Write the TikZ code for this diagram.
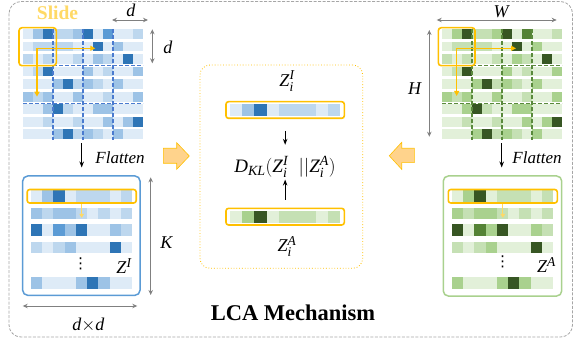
\RequirePackage{fix-cm}
\documentclass[tikz,border=0pt]{standalone}
\usepackage{amsmath}
\usepackage{fontspec}
\setmainfont{Liberation Serif}
\newfontfamily\symfont{DejaVu Sans}
\usetikzlibrary{arrows.meta}
\DeclareMathSizes{18}{18}{13.5}{10.5}
\DeclareMathSizes{19}{19}{14}{11}

% blue shades (image tokens)
\definecolor{b1}{HTML}{DEEBF7}
\definecolor{b2}{HTML}{BDD7EE}
\definecolor{b3}{HTML}{9DC3E6}
\definecolor{b4}{HTML}{5B9BD5}
\definecolor{b5}{HTML}{2E75B6}
% green shades (audio tokens)
\definecolor{g1}{HTML}{E2F0D9}
\definecolor{g2}{HTML}{C5E0B4}
\definecolor{g3}{HTML}{A9D18E}
\definecolor{g4}{HTML}{548235}
\definecolor{g5}{HTML}{375623}
\definecolor{hl}{HTML}{FFC000}
\definecolor{hlsoft}{HTML}{FFD966}
\definecolor{arrowfill}{HTML}{FFD38C}
\definecolor{dimgray}{HTML}{808080}
\definecolor{framegray}{HTML}{A6A6A6}
\definecolor{bluedash}{HTML}{4A7BCF}
\definecolor{greendash}{HTML}{5A8A3C}

% italic letters in the text face
\newcommand\il[1]{\textit{#1}}

\tikzset{
  dim/.style={draw=dimgray, line width=0.9pt,
    {Stealth[length=5pt,width=4.5pt]}-{Stealth[length=5pt,width=4.5pt]}},
  flow/.style={draw=black, line width=1pt, -{Stealth[length=6pt,width=4.5pt]}},
  slidebox/.style={draw=hl, line width=1.6pt, rounded corners=3pt},
  slidearrow/.style={draw=hl, line width=1.5pt, -{Triangle[length=5pt,width=5pt]}},
  smallarrow/.style={draw=hlsoft, line width=1.2pt, -{Triangle[length=4pt,width=4.5pt]}},
  griddash/.style={line width=1.4pt, dash pattern=on 4pt off 2pt},
  rowframe/.style={draw=hl, line width=1.6pt, rounded corners=2.5pt, inner sep=0pt},
  lbl/.style={inner sep=0pt, font=\fontsize{18}{21}\selectfont},
  blockarrow/.style={fill=arrowfill, draw=hl, line width=0.6pt},
}

% one strip of cells: x0, y0, cell width, cell height, colour prefix, values
\newcommand\barcells[6]{%
  \foreach \v [count=\c from 0] in {#6}
    \fill[fill=#5\v] (#1+#3*\c, #2) rectangle ++(#3,#4);
}

% 9x12 token map split into 3x3 patches: left x, colour prefix, dash colour
\newcommand\patchgrid[3]{%
  \foreach \rw [count=\r from 0] in {
      {1,3,5,2,2,3,5,1,4,1,1,2},
      {1,2,2,2,2,1,1,5,1,3,1,1},
      {2,1,2,1,1,2,1,3,2,1,5,1},
      {1,2,5,1,1,1,3,1,2,1,1,3},
      {1,1,1,3,5,2,3,2,1,3,1,1},
      {3,2,3,1,1,3,1,1,2,1,1,3},
      {1,1,3,5,2,1,1,3,3,1,1,1},
      {1,1,2,1,1,2,1,1,3,1,3,5},
      {1,1,1,3,5,2,3,2,1,3,1,1}}{
    \foreach \v [count=\c from 0] in \rw
      \fill[fill=#2\v] (#1+10*\c, 29+12.55*\r) rectangle ++(10,9.8);
  }
  \foreach \c in {3,6,9}
    \draw[griddash, draw=#3] (#1+10*\c, 29) -- (#1+10*\c, 140);
  \foreach \yy in {65.5,103.3}
    \draw[griddash, draw=#3] (#1, \yy) -- (#1+120, \yy);
}

% flattened token rows: left x, colour prefix
\newcommand\flatrows[2]{%
  \barcells{#1}{190.5}{11.22}{11.5}{#2}{1,3,5,1,2,2,2,1,2}
  \barcells{#1}{207.5}{11.22}{11.5}{#2}{3,2,3,3,2,1,2,1,2}
  \barcells{#1}{224.3}{11.22}{11.5}{#2}{5,1,4,3,5,1,1,3,2}
  \barcells{#1}{241.5}{11.22}{11.5}{#2}{2,1,2,3,1,1,1,5,1}
  \barcells{#1}{277}{11.22}{11.5}{#2}{3,1,1,1,3,5,3,1,1}
}

\begin{document}
\begin{tikzpicture}[x=1pt, y=-1pt]
\useasboundingbox (0,0) rectangle (574,345);

% outer dashed frame
\draw[framegray, line width=0.8pt, dash pattern=on 3pt off 1.5pt, rounded corners=12pt]
  (9,1.5) rectangle (572.5,337);

% ---------------- image side ----------------
\patchgrid{23}{b}{bluedash}
\draw[slidebox] (19,27.7) rectangle (56.3,65.7);
\coordinate (slI) at (37,48.3);
\coordinate (slIr) at (95.3,48.3);
\coordinate (slId) at (37,96.7);
\draw[slidearrow] (slI) -- (slIr);
\draw[slidearrow] (slI) -- (slId);
\node[inner sep=0pt, text=hlsoft, font=\fontsize{19.5}{22}\selectfont\bfseries] (slide) at (57.5,12.5) {Slide};

\node[lbl] (dtop) at (131,10.5) {\il{d}};
\coordinate (dtopL) at (112,20);
\coordinate (dtopR) at (148,20);
\draw[dim] (dtopL) -- (dtopR);
\node[lbl] (dside) at (168,47) {\il{d}};
\coordinate (dsideT) at (152.3,29.3);
\coordinate (dsideB) at (152.3,63.3);
\draw[dim] (dsideT) -- (dsideB);

\coordinate (flIa) at (81.7,143.5);
\coordinate (flIb) at (81.7,167.5);
\draw[flow] (flIa) -- (flIb);
\node[lbl, font=\fontsize{17}{20}\selectfont] (flI) at (120,158) {\textit{Flatten}};

\node[draw=b4, line width=1.5pt, rounded corners=5pt, inner sep=0pt,
      minimum width=117.3pt, minimum height=119.3pt] (zIbox) at (81.35,235.65) {};
\flatrows{31}{b}
\node[rowframe, minimum width=109pt, minimum height=13.5pt] (hlI) at (81.7,196.25) {};
\draw[smallarrow] (hlI.south) -- ++(0,14);
\node[lbl, font=\symfont\fontsize{15}{18}\selectfont] (dotsI) at (80.5,264) {⋮};
\node[lbl] (zI) at (124,266) {$\il{Z}^{\il{I}}$};

\coordinate (kT) at (150.7,177.3);
\coordinate (kB) at (150.7,295);
\draw[dim] (kT) -- (kB);
\node[lbl] (k) at (166.7,243) {\il{K}};
\coordinate (ddL) at (22.7,306);
\coordinate (ddR) at (137.3,306);
\draw[dim] (ddL) -- (ddR);
\node[lbl] (dd) at (88.3,325.5) {\il{d}$\times$\il{d}};

% ---------------- audio side ----------------
\patchgrid{442}{g}{greendash}
\draw[slidebox] (438.3,27.7) rectangle (475,65.7);
\coordinate (slA) at (456.7,48.3);
\coordinate (slAr) at (516,48.3);
\coordinate (slAd) at (456.7,96);
\draw[slidearrow] (slA) -- (slAr);
\draw[slidearrow] (slA) -- (slAd);

\node[lbl] (w) at (501.7,11.5) {\il{W}};
\coordinate (wL) at (436.7,20);
\coordinate (wR) at (556.7,20);
\draw[dim] (wL) -- (wR);
\node[lbl] (h) at (415,89) {\il{H}};
\coordinate (hT) at (429.3,30);
\coordinate (hB) at (429.3,136.7);
\draw[dim] (hT) -- (hB);

\coordinate (flAa) at (501.7,143.5);
\coordinate (flAb) at (501.7,167.5);
\draw[flow] (flAa) -- (flAb);
\node[lbl, font=\fontsize{17}{20}\selectfont] (flA) at (537,158) {\textit{Flatten}};

\node[draw=g3, line width=1.5pt, rounded corners=5pt, inner sep=0pt,
      minimum width=118.4pt, minimum height=120pt] (zAbox) at (502.5,236) {};
\flatrows{452}{g}
\node[rowframe, minimum width=109pt, minimum height=13.5pt] (hlA) at (502.8,196.25) {};
\draw[smallarrow] (hlA.south) -- ++(0,14);
\node[lbl, font=\symfont\fontsize{15}{18}\selectfont] (dotsA) at (502.7,262) {⋮};
\node[lbl] (zA) at (546.5,265) {$\il{Z}^{\il{A}}$};

% ---------------- centre: LCA ----------------
\node[draw=hl, line width=0.8pt, dotted, rounded corners=10pt, inner sep=0pt,
      minimum width=162.7pt, minimum height=203.3pt] (lca) at (281.35,166.65) {};

\node[lbl] (ziI) at (287,81) {$\il{Z}_{\il{i}}^{\il{I}}$};
\barcells{230}{104}{12.22}{12}{b}{1,3,5,1,2,2,2,1,2}
\node[rowframe, minimum width=118.3pt, minimum height=16.6pt] (barI) at (285.15,110) {};

\node[lbl, font=\fontsize{19}{22}\selectfont] (dkl) at (285,166.7)
  {$\il{D}_{\il{KL}}(\il{Z}_{\il{i}}^{\il{I}}\;\;||\il{Z}_{\il{i}}^{\il{A}})$};

\barcells{230}{211}{12.22}{12}{g}{1,3,5,1,2,2,2,1,2}
\node[rowframe, minimum width=118.3pt, minimum height=16.6pt] (barA) at (285.15,216.65) {};
\node[lbl] (ziA) at (287,246.5) {$\il{Z}_{\il{i}}^{\il{A}}$};

\draw[flow] ([yshift=-11.7pt]barI.south) -- ([yshift=-25.7pt]barI.south);
\draw[flow] ([yshift=8pt]barA.north) -- ([yshift=28pt]barA.north);

% block arrows feeding the centre
\draw[blockarrow] (163.3,148.3) -- (176.7,148.3) -- (176.7,142.7) -- (189.3,156)
  -- (176.7,169.3) -- (176.7,163.3) -- (163.3,163.3) -- cycle;
\draw[blockarrow] (414.3,148.3) -- (401.7,148.3) -- (401.7,142.3) -- (389.3,155.8)
  -- (401.7,169.3) -- (401.7,162.7) -- (414.3,162.7) -- cycle;

\node[inner sep=0pt, font=\fontsize{22.5}{26}\selectfont\bfseries] (title) at (293,313) {LCA Mechanism};
\end{tikzpicture}
\end{document}
